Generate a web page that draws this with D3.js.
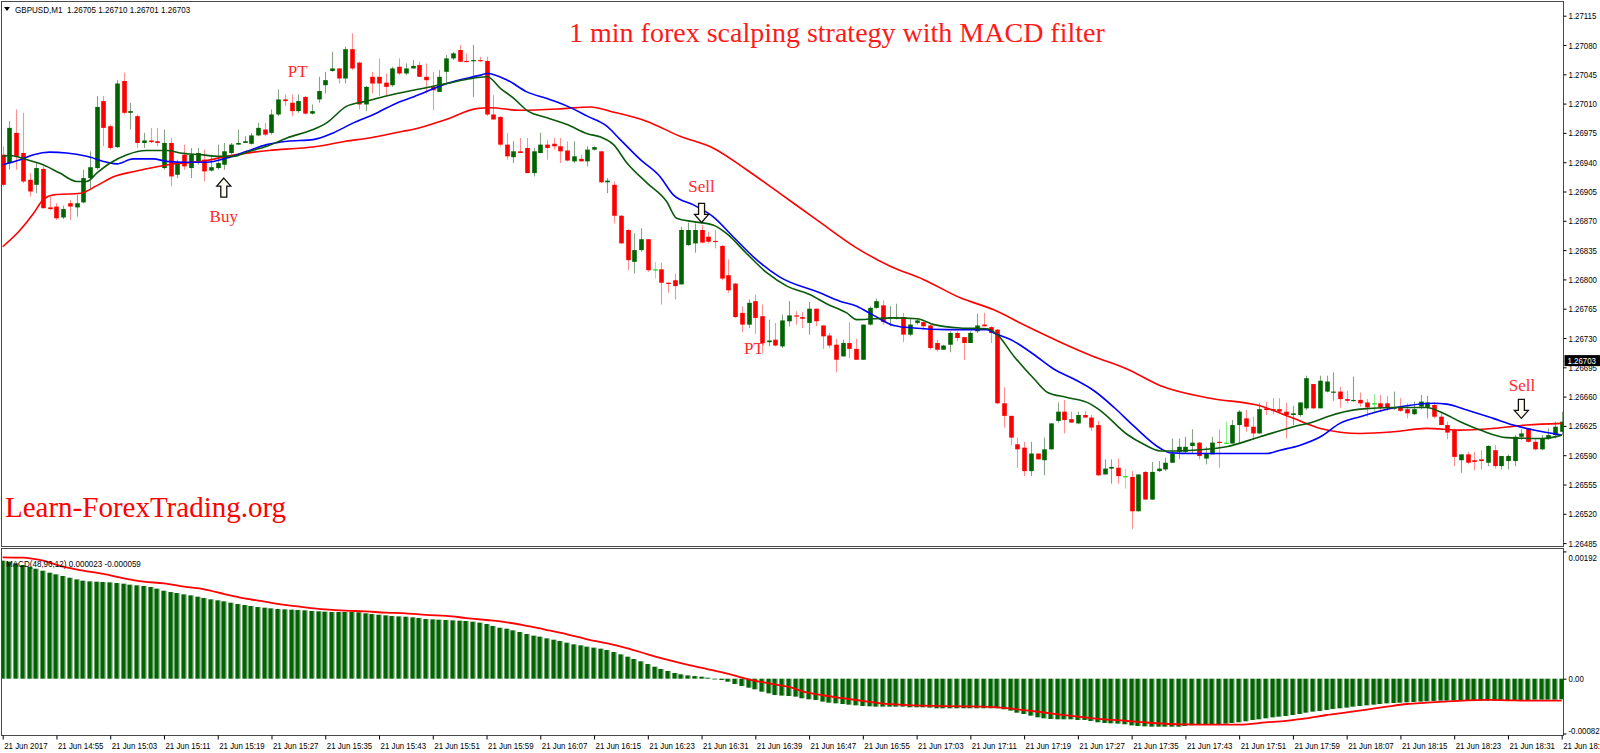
<!DOCTYPE html>
<html><head><meta charset="utf-8">
<script src="https://cdn.jsdelivr.net/npm/d3@7/dist/d3.min.js"></script>
<style>html,body{margin:0;padding:0;background:#fff;overflow:hidden}</style>
</head><body>
<svg id="c" width="1600" height="753" xmlns="http://www.w3.org/2000/svg"></svg>
<script>
// ---------------- DATA ----------------
const symbolHeader = "GBPUSD,M1  1.26705 1.26710 1.26701 1.26703";
const chartTitle = "1 min forex scalping strategy with MACD filter";
const watermark = "Learn-ForexTrading.org";
const macdHeader = "MACD(48,96,12) 0.000023 -0.000059";
const lastPrice = 1.26703;

const timeLabels = ["21 Jun 2017","21 Jun 14:55","21 Jun 15:03","21 Jun 15:11","21 Jun 15:19","21 Jun 15:27",
 "21 Jun 15:35","21 Jun 15:43","21 Jun 15:51","21 Jun 15:59","21 Jun 16:07","21 Jun 16:15","21 Jun 16:23",
 "21 Jun 16:31","21 Jun 16:39","21 Jun 16:47","21 Jun 16:55","21 Jun 17:03","21 Jun 17:11","21 Jun 17:19",
 "21 Jun 17:27","21 Jun 17:35","21 Jun 17:43","21 Jun 17:51","21 Jun 17:59","21 Jun 18:07","21 Jun 18:15",
 "21 Jun 18:23","21 Jun 18:31","21 Jun 18:39"];
const timeTickBars = [0,8,16,24,32,40,48,56,64,72,80,88,96,104,112,120,128,136,144,152,160,168,176,184,192,200,208,216,224,232];

const priceTicks = [1.27115,1.27080,1.27045,1.27010,1.26975,1.26940,1.26905,1.26870,1.26835,1.26800,
 1.26765,1.26730,1.26695,1.26660,1.26625,1.26590,1.26555,1.26520,1.26485];
const macdTicks = [0.00192, 0, -0.000827];
const macdTickLabels = ["0.00192","0.00","-0.000827"];

// one row per 1-minute bar: open, high, low, close (in 1e-5 price points)
const candleOHLC = [
[126949,126959,126911,126913],[126939,126989,126931,126981],[126975,127003,126931,126947],[126951,126999,126915,126917],
[126919,126927,126899,126905],[126913,126939,126903,126933],[126932,126935,126885,126885],[126886,126899,126883,126884],
[126887,126891,126871,126873],[126874,126888,126872,126884],[126891,126895,126871,126887],[126886,126901,126875,126891],
[126892,126931,126891,126921],[126921,126953,126907,126934],[126933,127019,126931,127006],[127013,127019,126959,126981],
[126983,126985,126955,126957],[126958,127038,126957,127034],[127037,127047,126997,126999],[126999,127011,126979,127001],
[126995,126997,126957,126963],[126963,126975,126957,126966],[126966,126981,126963,126964],[126965,126981,126959,126963],
[126933,126979,126931,126963],[126963,126969,126911,126923],[126925,126943,126921,126939],[126949,126961,126931,126935],
[126933,126957,126921,126949],[126941,126957,126937,126951],[126943,126955,126917,126929],[126930,126949,126929,126934],
[126933,126961,126931,126939],[126937,126963,126931,126953],[126951,126963,126949,126961],[126961,126979,126961,126963],
[126963,126971,126963,126965],[126962,126975,126961,126972],[126972,126987,126971,126981],[126979,126987,126971,126973],
[126975,127003,126973,126997],[126997,127027,126995,127015],[127015,127021,127007,127013],[127011,127021,126995,127001],
[127001,127021,126999,127013],[127018,127019,126997,126998],[126998,127009,126997,127001],[127015,127042,127011,127025],
[127032,127048,127022,127038],[127049,127072,127048,127052],[127052,127052,127034,127040],[127040,127078,127034,127075],
[127075,127094,127050,127052],[127059,127060,127003,127009],[127009,127031,127001,127030],[127042,127048,127022,127034],
[127042,127064,127019,127034],[127035,127046,127019,127030],[127032,127054,127030,127052],[127054,127064,127044,127046],
[127046,127058,127044,127052],[127052,127062,127052,127055],[127056,127060,127042,127042],[127042,127058,127022,127038],
[127030,127048,127002,127026],[127024,127050,127024,127042],[127048,127068,127034,127064],[127064,127072,127062,127070],
[127074,127080,127060,127060],[127061,127070,127060,127060],[127061,127080,127018,127062],[127062,127066,127060,127061],
[127061,127066,126995,126997],[126997,127020,126991,126991],[126994,126995,126959,126961],[126961,126975,126943,126947],
[126946,126965,126939,126953],[126953,126969,126951,126951],[126957,126969,126927,126927],[126927,126957,126923,126953],
[126951,126975,126951,126961],[126961,126967,126943,126957],[126962,126969,126955,126959],[126959,126969,126939,126953],
[126954,126965,126941,126942],[126941,126965,126939,126947],[126944,126949,126941,126941],[126941,126959,126935,126955],
[126955,126959,126954,126958],[126953,126953,126915,126916],[126916,126921,126903,126918],[126913,126917,126867,126876],
[126876,126877,126843,126843],[126859,126860,126811,126823],[126821,126855,126807,126835],[126835,126861,126833,126848],
[126848,126848,126809,126811],[126812,126821,126801,126812],[126812,126820,126770,126796],[126796,126797,126784,126795],
[126799,126807,126776,126792],[126794,126863,126794,126859],[126841,126868,126840,126859],[126843,126867,126832,126859],
[126859,126865,126843,126844],[126851,126857,126843,126845],[126846,126859,126837,126845],[126840,126841,126799,126801],
[126805,126824,126784,126787],[126795,126796,126754,126755],[126760,126768,126737,126746],[126746,126776,126742,126772],
[126774,126782,126735,126754],[126756,126770,126712,126724],[126725,126752,126720,126727],[126728,126748,126720,126721],
[126720,126758,126718,126751],[126750,126774,126744,126757],[126757,126762,126746,126756],[126755,126761,126742,126753],
[126748,126773,126734,126765],[126765,126765,126744,126750],[126745,126745,126717,126732],[126733,126736,126718,126721],
[126722,126729,126689,126704],[126708,126728,126708,126724],[126724,126749,126706,126717],[126717,126729,126704,126704],
[126704,126746,126704,126746],[126746,126768,126745,126766],[126766,126777,126765,126774],[126769,126775,126746,126749],
[126754,126768,126744,126755],[126753,126771,126752,126755],[126755,126760,126725,126734],[126734,126753,126732,126746],
[126748,126753,126746,126751],[126749,126752,126740,126744],[126745,126746,126716,126718],[126724,126728,126714,126716],
[126716,126722,126716,126721],[126722,126738,126713,126736],[126736,126738,126726,126730],[126731,126731,126704,126724],
[126724,126738,126724,126736],[126738,126759,126736,126745],[126746,126760,126744,126744],[126743,126744,126724,126736],
[126740,126741,126651,126652],[126652,126671,126623,126637],[126637,126637,126602,126611],[126603,126611,126575,126597],
[126599,126606,126565,126571],[126571,126606,126565,126592],[126592,126592,126585,126585],[126584,126611,126566,126597],
[126597,126628,126597,126628],[126631,126653,126629,126642],[126642,126656,126616,126632],[126633,126642,126629,126629],
[126628,126642,126627,126638],[126638,126643,126635,126635],[126635,126638,126619,126623],[126626,126631,126565,126566],
[126567,126585,126567,126574],[126574,126585,126556,126576],[126575,126586,126556,126565],[126565,126574,126550,126565],
[126564,126571,126502,126523],[126523,126567,126523,126567],[126570,126571,126537,126537],[126537,126582,126537,126570],
[126571,126583,126570,126574],[126573,126587,126571,126581],[126581,126610,126581,126592],[126594,126610,126585,126600],
[126594,126612,126592,126600],[126601,126621,126592,126605],[126605,126606,126585,126589],[126586,126600,126579,126592],
[126591,126612,126591,126605],[126606,126621,126575,126605],[126605,126630,126604,126605],[126604,126632,126604,126626],
[126626,126644,126604,126642],[126634,126644,126618,126624],[126624,126636,126608,126616],[126616,126652,126616,126645],
[126646,126654,126638,126644],[126645,126658,126639,126643],[126645,126658,126640,126642],[126642,126653,126610,126638],
[126638,126649,126626,126640],[126638,126653,126636,126653],[126646,126685,126644,126682],[126675,126675,126645,126646],
[126646,126685,126646,126679],[126666,126685,126665,126678],[126665,126689,126655,126666],[126666,126672,126647,126657],
[126657,126667,126652,126655],[126655,126684,126654,126656],[126656,126665,126648,126652],[126653,126657,126636,126647],
[126652,126663,126640,126652],[126652,126662,126642,126647],[126652,126661,126643,126647],[126646,126666,126644,126647],
[126647,126658,126642,126643],[126645,126652,126634,126640],[126639,126654,126638,126645],[126648,126662,126645,126654],
[126647,126661,126634,126653],[126650,126653,126634,126636],[126636,126642,126626,126626],[126626,126630,126609,126617],
[126620,126622,126577,126588],[126584,126591,126569,126591],[126591,126594,126579,126581],[126584,126594,126572,126582],
[126585,126596,126573,126583],[126581,126602,126577,126601],[126596,126602,126574,126577],[126577,126589,126573,126589],
[126583,126591,126573,126589],[126583,126614,126577,126612],[126612,126621,126608,126616],[126622,126622,126605,126606],
[126606,126610,126596,126597],[126597,126614,126596,126610],[126610,126622,126608,126614],[126614,126630,126610,126624],
[126618,126642,126614,126630]
];

// moving averages: [bar, price points]
const maSlow = [[0,126839],[2.6,126859],[4.6,126879],[6,126895],[7.6,126901],[11.6,126903],[14,126912],[16.6,126923],
 [19.6,126929],[24.6,126937],[29.6,126941],[34.6,126949],[39.6,126954],[44.6,126957],[47,126959],[51,126965],[54.6,126969],
 [59.6,126977],[61,126979],[66,126991],[70.5,127004],[72.5,127005],[77,127002],[83.4,127004],[87.4,127006],[90.8,127000],
 [95.8,126989],[100.8,126971],[105.7,126957],[110.7,126931],[115.6,126903],[121,126872],[127,126838],[132,126816],
 [137,126800],[142.5,126778],[147.4,126764],[152.4,126744],[157.4,126725],[162.3,126708],[167.3,126693],[172.3,126673],
 [179.7,126658],[187.1,126649],[192.1,126634],[196.1,126622],[202,126616],[207,126618],[211.9,126622],[216.9,126620],
 [221.8,126622],[226.8,126626],[232,126628]];
const maMid = [[0,126937],[2.6,126943],[4.6,126949],[7,126952],[9.5,126951],[12.5,126947],[15.5,126940],[17,126938],
 [19.4,126944],[22.4,126944],[24.4,126941],[27.4,126940],[30.4,126940],[33.3,126945],[36.3,126953],[39.3,126961],
 [42.3,126965],[46.2,126967],[49.2,126975],[52.2,126987],[55.2,126997],[59,127012],[61.1,127018],[66.1,127034],
 [71.1,127044],[72.1,127046],[75.1,127038],[78,127024],[81,127016],[84,127007],[87,126995],[89.9,126983],[91.9,126967],
 [94.9,126943],[97.8,126923],[99.8,126901],[102.8,126889],[105.7,126875],[108.7,126851],[111.7,126827],[115.6,126803],
 [121.6,126784],[124.6,126774],[127.1,126768],[129.6,126757],[132.6,126745],[135.6,126742],[140.6,126740],[146.5,126740],
 [147.5,126736],[150.5,126726],[153.5,126710],[156.4,126693],[159.4,126681],[162.4,126667],[165.4,126647],[168.3,126625],
 [172.3,126598],[173.7,126593],[177.2,126592],[188.1,126592],[190.1,126596],[193.1,126602],[196.1,126612],[199,126628],
 [202,126636],[206,126645],[208.9,126649],[212.9,126652],[214.9,126651],[217.9,126644],[221.8,126634],[224.8,126626],
 [227.8,126620],[232,126614]];
const maFast = [[0,126947],[1.1,126948],[3.6,126943],[6,126937],[8.5,126927],[11,126917],[12.5,126917],[14,126927],
 [16,126939],[18.5,126949],[21.4,126954],[24.4,126954],[26.4,126951],[29.4,126949],[32.3,126947],[34.3,126947],
 [36.3,126952],[39.3,126959],[42.3,126969],[46.2,126979],[48.2,126987],[51.2,127007],[54.2,127013],[57.1,127019],
 [61.1,127026],[66.1,127034],[69.1,127039],[72.1,127042],[74.1,127028],[76.1,127016],[78,127002],[81,126993],[84,126985],
 [87,126974],[89,126970],[90.9,126961],[92.9,126939],[95.9,126915],[98.8,126893],[100.3,126873],[102.8,126869],
 [105.7,126865],[107.7,126855],[110.7,126831],[113.7,126808],[116.7,126792],[120.1,126782],[122.6,126771],[125.6,126760],
 [127.1,126752],[132.6,126754],[136.1,126753],[138.6,126746],[142.5,126742],[146.5,126741],[148,126734],[150.5,126708],
 [153.5,126681],[155.5,126665],[158.4,126659],[161.9,126651],[163.4,126643],[167.3,126615],[169.8,126603],[172.3,126595],
 [177.2,126596],[182.1,126600],[187.1,126612],[192.1,126624],[195.1,126630],[197.1,126636],[202,126645],[207,126647],
 [211.9,126647],[213.9,126642],[216.9,126630],[219.9,126620],[223.8,126611],[229.3,126610],[232,126614]];

// MACD histogram per bar (units of 1e-6)
const macdHist = [1780,1765,1740,1715,1689,1659,1629,1599,1574,1549,
 1523,1498,1478,1468,1463,1458,1453,1443,1433,1418,
 1408,1398,1383,1358,1327,1307,1292,1272,1257,1237,
 1217,1197,1182,1167,1146,1126,1111,1096,1081,1071,
 1061,1051,1046,1041,1036,1031,1021,1016,1011,1006,
 1006,1006,1006,1001,986,975,965,955,945,940,
 935,925,915,900,895,890,885,880,875,870,
 860,845,825,795,769,754,729,704,674,649,
 634,608,588,568,543,518,503,483,468,453,
 432,402,367,332,297,262,221,181,146,116,
 86,66,50,40,30,15,-5,-20,-45,-80,
 -111,-136,-161,-196,-221,-246,-255,-261,-271,-296,
 -311,-321,-346,-362,-372,-382,-392,-402,-412,-417,
 -422,-422,-422,-422,-422,-432,-432,-432,-437,-447,
 -447,-447,-447,-447,-447,-447,-447,-447,-447,-462,
 -482,-513,-533,-558,-583,-598,-608,-613,-613,-613,
 -623,-623,-638,-658,-668,-673,-678,-688,-704,-714,
 -719,-724,-724,-724,-724,-724,-714,-704,-699,-699,
 -694,-688,-678,-668,-658,-643,-623,-613,-598,-583,
 -573,-563,-548,-533,-513,-497,-487,-472,-457,-447,
 -437,-422,-412,-402,-392,-382,-372,-367,-362,-357,
 -352,-346,-341,-336,-331,-331,-331,-326,-326,-331,
 -331,-331,-331,-331,-326,-321,-321,-321,-316,-316,
 -316,-316,-311];
// MACD signal line [bar, value 1e-6]
const macdSignal = [[0,1831],[3,1826],[6,1780],[9,1690],[12,1630],[15,1580],[18,1514],[21,1464],[24,1438],[27,1388],
 [30,1348],[33,1277],[36,1212],[39,1162],[42,1112],[45,1076],[48,1046],[51,1026],[54,1016],[57,996],[60,986],[63,961],
 [66,946],[69,915],[72,885],[75,850],[78,795],[81,734],[84,669],[87,594],[90,533],[93,458],[96,367],[99,282],[102,207],
 [105,141],[108,71],[111,-10],[114,-70],[117,-125],[119,-190],[122,-250],[125,-295],[128,-335],[131,-375],[134,-395],
 [137,-408],[140,-413],[143,-418],[146,-423],[149,-440],[152,-475],[155,-510],[158,-550],[161,-585],[164,-615],
 [167,-635],[170,-660],[173,-680],[176,-689],[179,-694],[182,-694],[184,-694],[188,-660],[191,-635],[194,-600],
 [197,-548],[200,-508],[203,-467],[206,-422],[209,-382],[212,-362],[215,-341],[218,-326],[221,-321],[224,-326],
 [227,-331],[230,-331],[232,-331]];

// annotations anchored to bar / price
const notes = [
 {kind:"up",   bar:32.9,  price:1.26921},
 {kind:"text", text:"Buy",  bar:32.9,  price:1.26868},
 {kind:"text", text:"PT",   bar:43.9,  price:1.27042},
 {kind:"text", text:"Sell", bar:104.0, price:1.26904},
 {kind:"down", bar:104.0, price:1.26868},
 {kind:"text", text:"PT",   bar:111.8, price:1.26711},
 {kind:"text", text:"Sell", bar:226.1, price:1.26667},
 {kind:"down", bar:226.0, price:1.26634}
];

// ---------------- DRAW ----------------
const svg = d3.select("#c");
const axisFont = "'Liberation Sans',Arial,sans-serif";
const serif = "'Liberation Serif','Times New Roman',serif";
// MT4's narrow Tahoma look: compress regular sans glyphs horizontally
function narrow(sel, f) {
  sel.each(function(){
    const w = this.getComputedTextLength();
    if (w > 0) d3.select(this).attr("textLength", w*(f||0.82)).attr("lengthAdjust","spacingAndGlyphs");
  });
}

const PL = 1.5, PR = 1563.5, MT = 1.5, MB = 546.5, ST = 548.5, SB = 735.5;
const x = d3.scaleLinear().domain([0, 232]).range([2.7, 1561.7]);
const y = d3.scaleLinear().domain([1.26485, 1.27115]).range([543.1, 15.7]);
const ym = d3.scaleLinear().domain([-0.000827, 0.00192]).range([733.5, 551.4]);
const pt = v => v / 1e5;

svg.append("rect").attr("width",1600).attr("height",753).attr("fill","#fff");

const defs = svg.append("defs");
defs.append("clipPath").attr("id","cm").append("rect").attr("x",PL+0.5).attr("y",MT+0.5).attr("width",PR-PL-1).attr("height",MB-MT-1);
defs.append("clipPath").attr("id","cs").append("rect").attr("x",PL+0.5).attr("y",ST+0.5).attr("width",PR-PL-1).attr("height",SB-ST-1);

// main panel
const gm = svg.append("g").attr("clip-path","url(#cm)");
const bullBody="#006400", bullWick="#86a386", bearBody="#ff0000", bearWick="#ff9090", dojiCol="#00e600";
const gc = gm.append("g");
candleOHLC.forEach((d,i)=>{
  const [o,h,l,c] = d;
  const cx = Math.round(x(i)) + 0.5;
  let body, wick;
  if (c > o) { body = bullBody; wick = bullWick; }
  else if (c < o) { body = bearBody; wick = bearWick; }
  else { body = dojiCol; wick = "#8cf08c"; }
  gc.append("line").attr("x1",cx).attr("x2",cx).attr("y1",y(pt(h))).attr("y2",y(pt(l)))
    .attr("stroke",wick).attr("stroke-width",1.1);
  const top = y(pt(Math.max(o,c))), bot = y(pt(Math.min(o,c)));
  gc.append("rect").attr("x",cx-2.3).attr("width",4.6)
    .attr("y",top).attr("height",Math.max(1.2, bot-top)).attr("fill",body);
});

const maLine = d3.line().x(d=>x(d[0])).y(d=>y(pt(d[1]))).curve(d3.curveMonotoneX);
gm.append("path").attr("d",maLine(maSlow)).attr("fill","none").attr("stroke","#ff0000").attr("stroke-width",1.6);
gm.append("path").attr("d",maLine(maMid)).attr("fill","none").attr("stroke","#0000ff").attr("stroke-width",1.6);
gm.append("path").attr("d",maLine(maFast)).attr("fill","none").attr("stroke","#0b5a0b").attr("stroke-width",1.6);

// annotations
notes.forEach(n=>{
  const cx = x(n.bar), cy = y(n.price);
  if (n.kind === "text") {
    gm.append("text").attr("x",cx).attr("y",cy).attr("text-anchor","middle")
      .attr("font-family",serif).attr("font-size",17).attr("fill","#ff2a2a").text(n.text);
  } else {
    const L = 19, hh = 8, hw = 7, sw = 3;
    const s = n.kind === "up" ? 1 : -1;  // tip at cy
    const pts = [[0,0],[hw,hh],[sw,hh],[sw,L],[-sw,L],[-sw,hh],[-hw,hh]]
      .map(p=>[cx+p[0], cy + s*p[1]]);
    gm.append("path").attr("d","M"+pts.map(p=>p.join(",")).join("L")+"Z")
      .attr("fill","#fffdf2").attr("stroke","#111").attr("stroke-width",1.3).attr("stroke-linejoin","miter");
  }
});

// texts
svg.append("text").attr("x",569).attr("y",42).attr("font-family",serif).attr("font-size",28)
  .attr("fill","#ff1a1a").text(chartTitle);
svg.append("text").attr("x",5).attr("y",517).attr("font-family",serif).attr("font-size",29)
  .attr("fill","#ff0000").text(watermark);

// header
svg.append("path").attr("d","M4,7 L10,7 L7,11 Z").attr("fill","#000");
svg.append("text").attr("x",15).attr("y",12.5).attr("font-family",axisFont).attr("font-size",9.6)
  .attr("fill","#000").style("white-space","pre").text(symbolHeader).call(narrow, 0.84);

// MACD panel
const gs = svg.append("g").attr("clip-path","url(#cs)");
const z0 = ym(0);
macdHist.forEach((v,i)=>{
  const val = v*1e-6, cx = Math.round(x(i));
  const y1 = Math.min(ym(val), z0), y2 = Math.max(ym(val), z0);
  gs.append("rect").attr("x",cx-2.6).attr("width",4.4).attr("y",y1).attr("height",Math.max(0.8,y2-y1)).attr("fill","#006400");
  gs.append("rect").attr("x",cx+1.8).attr("width",1.3).attr("y",y1).attr("height",Math.max(0.8,y2-y1)).attr("fill","#aebfae");
});
const sigLine = d3.line().x(d=>x(d[0])).y(d=>ym(d[1]*1e-6)).curve(d3.curveMonotoneX);
gs.append("path").attr("d",sigLine(macdSignal)).attr("fill","none").attr("stroke","#ff0000").attr("stroke-width",1.8);
svg.append("text").attr("x",6).attr("y",567).attr("font-family",axisFont).attr("font-size",9.6)
  .attr("fill","#000").text(macdHeader).call(narrow, 0.84);

// frames
const frame = svg.append("g").attr("fill","none").attr("stroke","#4a4a4a").attr("stroke-width",1);
frame.append("rect").attr("x",PL).attr("y",MT).attr("width",PR-PL).attr("height",MB-MT);
frame.append("rect").attr("x",PL).attr("y",ST).attr("width",PR-PL).attr("height",SB-ST);

// price axis
const ay = svg.append("g").attr("transform",`translate(${PR},0)`)
  .call(d3.axisRight(y).tickValues(priceTicks).tickFormat(d3.format(".5f")).tickSize(3).tickPadding(2));
ay.select(".domain").remove();
ay.selectAll("text").attr("font-family",axisFont).attr("font-size",9.6).attr("fill","#000").call(narrow);
ay.selectAll("line").attr("stroke","#000");

// last price tag
const tag = svg.append("g").attr("transform",`translate(${PR+1},${y(lastPrice)})`);
tag.append("rect").attr("x",0).attr("y",-5.5).attr("width",36).attr("height",11).attr("fill","#000");
tag.append("text").attr("x",3).attr("y",3.6).attr("font-family",axisFont).attr("font-size",9.6)
  .attr("fill","#fff").text(d3.format(".5f")(lastPrice)).call(narrow);

// macd axis
const am = svg.append("g").attr("transform",`translate(${PR},0)`)
  .call(d3.axisRight(ym).tickValues(macdTicks).tickFormat((d,i)=>macdTickLabels[i]).tickSize(3).tickPadding(2));
am.select(".domain").remove();
am.selectAll("text").attr("font-family",axisFont).attr("font-size",9.6).attr("fill","#000")
  .attr("dy",(d,i)=> i===0 ? "0.9em" : (i===2 ? "-0.05em" : "0.32em")).call(narrow);
am.selectAll("line").attr("stroke","#000");

// time axis
const ax = svg.append("g").attr("transform",`translate(0,${SB})`)
  .call(d3.axisBottom(x).tickValues(timeTickBars).tickFormat((d,i)=>timeLabels[i]).tickSize(4).tickPadding(3));
ax.select(".domain").remove();
ax.selectAll("text").attr("font-family",axisFont).attr("font-size",9.6).attr("fill","#000")
  .attr("text-anchor","start").attr("dx","1").call(narrow);
ax.selectAll("line").attr("stroke","#000");
</script>
</body></html>
